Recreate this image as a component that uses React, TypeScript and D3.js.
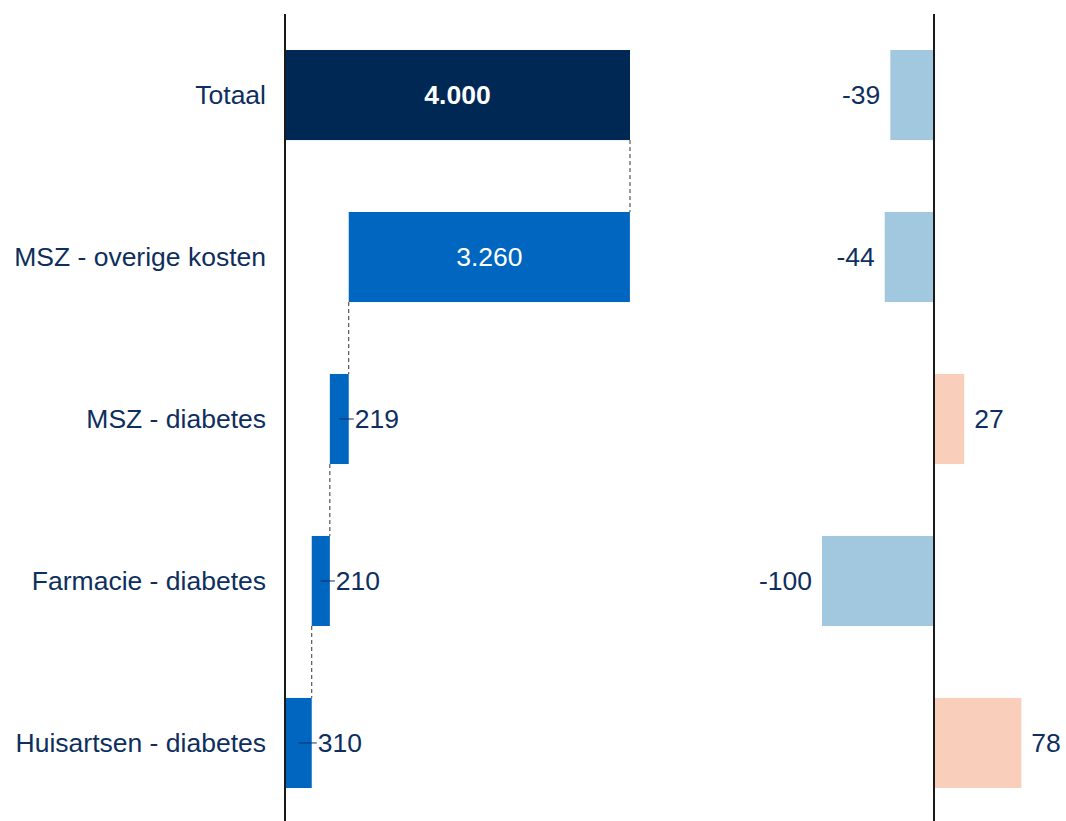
import React from "react";
import * as d3 from "d3";

const categories = [
  "Totaal",
  "MSZ - overige kosten",
  "MSZ - diabetes",
  "Farmacie - diabetes",
  "Huisartsen - diabetes",
];
const costs = [4000, 3260, 219, 210, 310];
const changes = [-39, -44, 27, -100, 78];

const W = 1066;
const H = 821;
const NAVY = "#002855";
const BLUE = "#0066BF";
const TEXT = "#0E2F5E";
const NEG = "#A2C8E0";
const POS = "#F9CEBA";
const FONT = "Arial, 'Liberation Sans', sans-serif";
const FS = 26.5;

const nl = d3.formatLocale({
  decimal: ",",
  thousands: ".",
  grouping: [3],
  currency: ["€", ""],
  minus: "-",
});
const fmt = nl.format(",d");

// waterfall: parts stacked from the bottom row upward, total from zero
const segments = categories.map((c, i) => {
  if (i === 0) return { c, start: 0, end: costs[0], v: costs[0] };
  const below = d3.sum(costs.slice(i + 1));
  return { c, start: below, end: below + costs[i], v: costs[i] };
});

export default function App() {
  const y = d3
    .scaleBand<string>()
    .domain(categories)
    .range([15.5, H + 1.5])
    .paddingInner(0.444)
    .paddingOuter(0.213);
  const x = d3.scaleLinear().domain([0, 4000]).range([285, 630]);
  const x2 = d3.scaleLinear().domain([0, 100]).range([934, 1046]);
  const bw = y.bandwidth();

  return (
    <svg
      width={W}
      height={H}
      style={{ position: "absolute", left: 0, top: 0, background: "#fff" }}
      fontFamily={FONT}
    >
      {/* category labels */}
      {categories.map((c) => (
        <text
          key={c}
          x={266}
          y={(y(c) || 0) + bw / 2}
          dy="0.35em"
          textAnchor="end"
          fontSize={FS}
          fill={TEXT}
        >
          {c}
        </text>
      ))}

      {/* connectors */}
      {segments.slice(0, -1).map((s, i) => {
        const next = segments[i + 1];
        const cx = x(s.start === 0 ? s.end : s.start);
        return (
          <line
            key={"c" + i}
            x1={cx}
            x2={cx}
            y1={(y(s.c) || 0) + bw}
            y2={y(next.c) || 0}
            stroke="#333"
            strokeWidth={1}
            strokeDasharray="4,3"
          />
        );
      })}

      {/* waterfall bars */}
      {segments.map((s, i) => {
        const x0 = x(s.start);
        const x1 = x(s.end);
        const yy = y(s.c) || 0;
        const inside = x1 - x0 > 80;
        return (
          <g key={"b" + i}>
            <rect x={x0} y={yy} width={x1 - x0} height={bw} fill={i === 0 ? NAVY : BLUE} />
            {inside ? (
              <text
                x={(x0 + x1) / 2}
                y={yy + bw / 2}
                dy="0.35em"
                textAnchor="middle"
                fontSize={FS}
                fontWeight={i === 0 ? "bold" : "normal"}
                fill="#fff"
              >
                {fmt(s.v)}
              </text>
            ) : (
              <g>
                <line
                  x1={(x0 + x1) / 2}
                  x2={x1 + 5}
                  y1={yy + bw / 2}
                  y2={yy + bw / 2}
                  stroke={TEXT}
                  strokeWidth={1}
                />
                <text x={x1 + 6} y={yy + bw / 2} dy="0.35em" fontSize={FS} fill={TEXT}>
                  {fmt(s.v)}
                </text>
              </g>
            )}
          </g>
        );
      })}

      {/* change bars */}
      {categories.map((c, i) => {
        const v = changes[i];
        const xa = v < 0 ? x2(v) : x2(0);
        const xb = v < 0 ? x2(0) : x2(v);
        const yy = y(c) || 0;
        return (
          <g key={"d" + i}>
            <rect x={xa} y={yy} width={xb - xa} height={bw} fill={v < 0 ? NEG : POS} />
            <text
              x={v < 0 ? xa - 10 : xb + 10}
              y={yy + bw / 2}
              dy="0.35em"
              textAnchor={v < 0 ? "end" : "start"}
              fontSize={FS}
              fill={TEXT}
            >
              {fmt(v)}
            </text>
          </g>
        );
      })}

      {/* axes */}
      <line x1={x(0)} x2={x(0)} y1={14} y2={H} stroke="#1a1a1a" strokeWidth={2} />
      <line x1={x2(0)} x2={x2(0)} y1={14} y2={H} stroke="#1a1a1a" strokeWidth={2} />
    </svg>
  );
}
